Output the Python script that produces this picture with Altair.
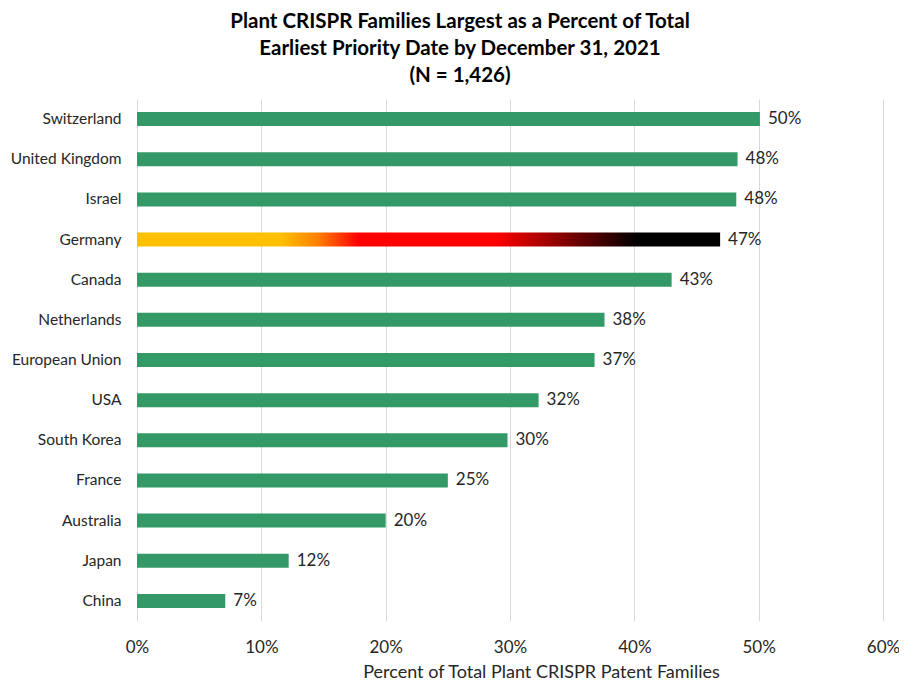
import altair as alt
import pandas as pd

countries = ["Switzerland", "United Kingdom", "Israel", "Germany", "Canada",
             "Netherlands", "European Union", "USA", "South Korea", "France",
             "Australia", "Japan", "China"]
shares = [0.501, 0.483, 0.482, 0.469, 0.430, 0.376, 0.368, 0.323, 0.298,
          0.250, 0.200, 0.122, 0.071]
labels = ["50%", "48%", "48%", "47%", "43%", "38%", "37%", "32%", "30%",
          "25%", "20%", "12%", "7%"]
x_ticks = [0, 0.1, 0.2, 0.3, 0.4, 0.5, 0.6]

df = pd.DataFrame({"country": countries, "share": shares, "label": labels})

FONT = "Lato"
GREEN = "#339966"

y_enc = alt.Y("country:N", sort=countries, title=None,
              axis=alt.Axis(labelFontSize=15.5, labelPadding=16, ticks=False,
                            domain=False, grid=False, labelColor="#262626",
                            labelFont=FONT))
x_enc = alt.X("share:Q", scale=alt.Scale(domain=[0, 0.6], nice=False),
              title="Percent of Total Plant CRISPR Patent Families",
              axis=alt.Axis(values=x_ticks, format=".0%", labelFontSize=17,
                            labelPadding=18, ticks=False, domain=False,
                            labelFlush=False,
                            grid=True, gridColor="#d9d9d9", gridWidth=1,
                            labelColor="#262626", titleColor="#262626",
                            titleFontSize=18, titleFontWeight="normal",
                            titlePadding=8, titleX=404, titleAlign="center",
                            labelFont=FONT, titleFont=FONT))

base = alt.Chart(df).encode(y=y_enc, x=x_enc)

green_bars = base.transform_filter(alt.datum.country != "Germany").mark_bar(
    size=14, color=GREEN)

gradient = alt.LinearGradient(
    gradient="linear", x1=0, x2=1, y1=0, y2=0,
    stops=[
        alt.GradientStop(color="#FFC000", offset=0),
        alt.GradientStop(color="#FFC000", offset=0.247),
        alt.GradientStop(color="#FF8000", offset=0.31),
        alt.GradientStop(color="#FF0000", offset=0.38),
        alt.GradientStop(color="#FF0000", offset=0.614),
        alt.GradientStop(color="#000000", offset=0.858),
        alt.GradientStop(color="#000000", offset=1),
    ])

germany_bar = base.transform_filter(alt.datum.country == "Germany").mark_bar(
    size=14, color=gradient)

text = base.mark_text(align="left", baseline="middle", dx=8, fontSize=17,
                      font=FONT, color="#262626").encode(text="label:N")

chart = alt.layer(green_bars, germany_bar, text).properties(
    width=746, height=522,
    title=alt.TitleParams(
        text=["Plant CRISPR Families Largest as a Percent of Total",
              "Earliest Priority Date by December 31, 2021",
              "(N = 1,426)"],
        fontSize=20.5, font=FONT, fontWeight="bold", color="#000000",
        anchor="middle", dx=-50, lineHeight=27, offset=13),
    autosize=alt.AutoSizeParams(type="none"),
    padding={"left": 129, "top": 91, "right": 16, "bottom": 60},
).configure_view(stroke=None)

chart.save("out.html", embed_options={"renderer": "svg", "actions": False})
